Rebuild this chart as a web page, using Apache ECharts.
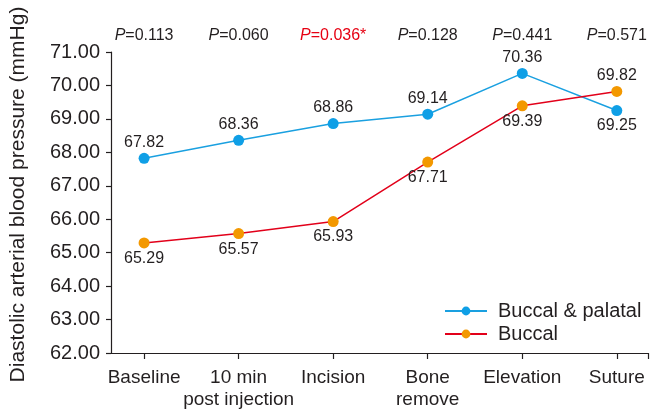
<!DOCTYPE html>
<html>
<head>
<meta charset="utf-8">
<script src="https://cdn.jsdelivr.net/npm/echarts@6/dist/echarts.min.js"></script>
<style>html,body{margin:0;padding:0;background:#fff}#c{width:650px;height:410px}</style>
</head>
<body>
<div id="c"></div>
<script>
var categories = ['Baseline', '10 min\npost injection', 'Incision', 'Bone\nremove', 'Elevation', 'Suture'];
var buccalPalatal = [67.82, 68.36, 68.86, 69.14, 70.36, 69.25];
var buccal = [65.29, 65.57, 65.93, 67.71, 69.39, 69.82];
var pValues = ['0.113', '0.060', '0.036*', '0.128', '0.441', '0.571'];
var yTicks = [62, 63, 64, 65, 66, 67, 68, 69, 70, 71];

var FONT = '"Liberation Sans", Arial, sans-serif';
var TXT = '#231f20';
var idx = categories.map(function (c, i) { return i; });

function buildData(vals, other) {
  return vals.map(function (v, i) {
    return { value: [i, v], label: { position: v >= other[i] ? 'top' : 'bottom' } };
  });
}

var chart = echarts.init(document.getElementById('c'));
chart.setOption({
  animation: false,
  textStyle: { fontFamily: FONT },
  grid: { left: 111, right: 2, top: 52, bottom: 57, containLabel: false, outerBoundsMode: 'none' },
  xAxis: [{
    type: 'value', min: -0.35, max: 5.33,
    splitLine: { show: false },
    axisLine: { onZero: false, lineStyle: { color: TXT, width: 1.2 } },
    axisTick: { length: 6, lineStyle: { color: TXT, width: 1.2 }, customValues: idx.concat([5.33]) },
    axisLabel: {
      customValues: idx, showMinLabel: true, showMaxLabel: true, hideOverlap: false,
      color: TXT, fontSize: 19, fontFamily: FONT, margin: 14, lineHeight: 22,
      formatter: function (v) { return categories[Math.round(v)]; }
    }
  }, {
    type: 'value', min: -0.35, max: 5.33, position: 'top',
    splitLine: { show: false }, axisLine: { show: false }, axisTick: { show: false },
    axisLabel: {
      customValues: idx, showMinLabel: true, showMaxLabel: true, hideOverlap: false, margin: 8,
      formatter: function (v) {
        var p = pValues[Math.round(v)];
        var sig = p.indexOf('*') >= 0;
        return sig ? '{ir|P}{r|=' + p + '}' : '{i|P}{n|=' + p + '}';
      },
      rich: {
        i: { fontStyle: 'italic', color: TXT, fontSize: 16, fontFamily: FONT },
        n: { color: TXT, fontSize: 16, fontFamily: FONT },
        ir: { fontStyle: 'italic', color: '#e60012', fontSize: 16, fontFamily: FONT },
        r: { color: '#e60012', fontSize: 16, fontFamily: FONT }
      }
    }
  }],
  yAxis: {
    type: 'value', min: yTicks[0], max: yTicks[yTicks.length - 1], interval: 1,
    splitLine: { show: false },
    axisLine: { show: true, onZero: false, lineStyle: { color: TXT, width: 1.2 } },
    axisTick: { show: true, length: 5, lineStyle: { color: TXT, width: 1.2 } },
    axisLabel: { color: TXT, fontSize: 20, fontFamily: FONT, margin: 11,
      formatter: function (v) { return v.toFixed(2); } },
    name: 'Diastolic arterial blood pressure (mmHg)',
    nameLocation: 'middle', nameGap: 82,
    nameTextStyle: { color: TXT, fontSize: 21, fontFamily: FONT, padding: [0, 0, 0, 16] }
  },
  legend: {
    orient: 'vertical', left: 439, top: 296, itemWidth: 42, itemHeight: 11, itemGap: 3,
    textStyle: { color: TXT, fontSize: 20, fontFamily: FONT, padding: [0, 0, 0, 6] },
    data: ['Buccal & palatal', 'Buccal']
  },
  series: [{
    name: 'Buccal & palatal', type: 'line', data: buildData(buccalPalatal, buccal),
    symbol: 'circle', symbolSize: 11,
    lineStyle: { color: '#1aa0e0', width: 1.5 },
    itemStyle: { color: '#0f9fe6' },
    label: { show: true, color: TXT, fontSize: 16, fontFamily: FONT, distance: 2,
      formatter: function (p) { return p.value[1].toFixed(2); } }
  }, {
    name: 'Buccal', type: 'line', data: buildData(buccal, buccalPalatal),
    symbol: 'circle', symbolSize: 11,
    lineStyle: { color: '#e2001a', width: 1.5 },
    itemStyle: { color: '#f39800' },
    label: { show: true, color: TXT, fontSize: 16, fontFamily: FONT, distance: 2,
      formatter: function (p) { return p.value[1].toFixed(2); } }
  }]
});
</script>
</body>
</html>
